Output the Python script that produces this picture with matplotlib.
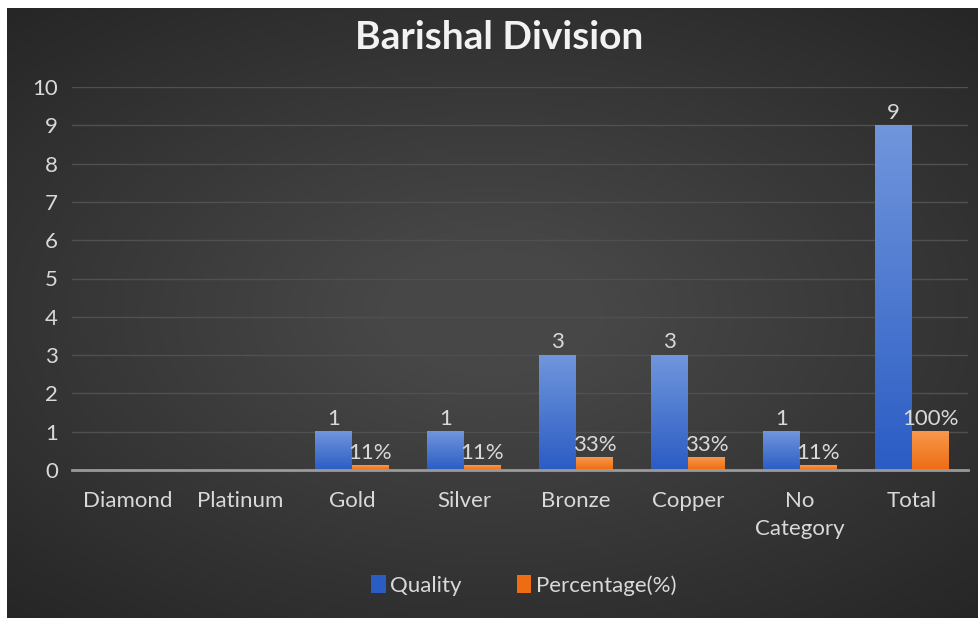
import matplotlib.pyplot as plt
import numpy as np
from matplotlib.colors import LinearSegmentedColormap

plt.rcParams['font.family'] = ['Lato', 'DejaVu Sans']

categories = ['Diamond', 'Platinum', 'Gold', 'Silver', 'Bronze', 'Copper',
              'No\nCategory', 'Total']
quality = [0, 0, 1, 1, 3, 3, 1, 9]
percentage = [0, 0, 0.11, 0.11, 0.33, 0.33, 0.11, 1.00]
pct_labels = ['', '', '11%', '11%', '33%', '33%', '11%', '100%']

TEXT = '#d9d9d9'
BLUE_TOP, BLUE_BOT = '#7196dc', '#2a5cc4'
ORANGE_TOP, ORANGE_BOT = '#f7994c', '#ee6c12'

fig = plt.figure(figsize=(9.79, 6.18), dpi=100)
fig.patch.set_facecolor('white')

# dark radial background behind the chart
bg = fig.add_axes([7 / 979, 0, 972 / 979, 610 / 618])
bg.set_axis_off()
yy, xx = np.mgrid[-1:1:300j, -1:1:480j]
r = np.sqrt((xx * 0.95) ** 2 + (yy * 1.05) ** 2)
shade = np.clip(1 - r / 1.45, 0, 1)
bg_cmap = LinearSegmentedColormap.from_list('bg', ['#252525', '#474747'])
bg.imshow(shade, cmap=bg_cmap, aspect='auto', extent=[0, 1, 0, 1],
          vmin=0, vmax=0.85)
bg.set_xlim(0, 1)
bg.set_ylim(0, 1)

ax = fig.add_axes([72 / 979, (618 - 470) / 618, 896 / 979, 383 / 618])
ax.set_facecolor('none')

x = np.arange(len(categories))
w = 0.33
bars_q = ax.bar(x - w / 2, quality, w, color=BLUE_BOT, label='Quality', zorder=2)
bars_p = ax.bar(x + w / 2, percentage, w, color=ORANGE_BOT,
                label='Percentage(%)', zorder=2)


def shade_bars(bars, top, bot):
    cmap = LinearSegmentedColormap.from_list('g', [bot, top])
    grad = np.linspace(0, 1, 256).reshape(-1, 1)
    for b in bars:
        h = b.get_height()
        if h <= 0:
            continue
        x0 = b.get_x()
        ax.imshow(grad, cmap=cmap, origin='lower', aspect='auto',
                  extent=[x0, x0 + b.get_width(), 0, h], zorder=3)


shade_bars(bars_q, BLUE_TOP, BLUE_BOT)
shade_bars(bars_p, ORANGE_TOP, ORANGE_BOT)

for b, v in zip(bars_q, quality):
    if v:
        ax.annotate(str(v), (b.get_x() + b.get_width() / 2, v),
                    xytext=(0, 2), textcoords='offset points',
                    ha='center', va='bottom', color=TEXT, fontsize=16)
for b, v, s in zip(bars_p, percentage, pct_labels):
    if v:
        ax.annotate(s, (b.get_x() + b.get_width() / 2, v),
                    xytext=(0, 2), textcoords='offset points',
                    ha='center', va='bottom', color=TEXT, fontsize=16)

ax.set_xlim(-0.5, len(categories) - 0.5)
ax.set_ylim(0, 10)
ax.set_yticks(range(0, 11))
ax.set_xticks(x)
ax.set_xticklabels(categories, linespacing=1.5)
ax.tick_params(axis='both', length=0, colors=TEXT, labelsize=16)
ax.tick_params(axis='x', pad=15)
ax.tick_params(axis='y', pad=10)
ax.grid(axis='y', color='#505050', linewidth=1, zorder=0)
for s in ['top', 'right', 'left']:
    ax.spines[s].set_visible(False)
ax.spines['bottom'].set_color('#9a9a9a')
ax.spines['bottom'].set_linewidth(2)
ax.spines['bottom'].set_zorder(4)

fig.text(0.510, 0.940, 'Barishal Division', ha='center', va='center',
         color='#f2f2f2', fontsize=28, fontweight='bold')

leg = ax.legend(loc='center', bbox_to_anchor=(0.535, 0.053),
                bbox_transform=fig.transFigure, ncol=2, frameon=False,
                fontsize=16, handlelength=0.65, handleheight=0.9,
                handletextpad=0.2, columnspacing=2.5)
for t in leg.get_texts():
    t.set_color(TEXT)

fig.savefig('out.png', dpi=100, facecolor=fig.get_facecolor())
